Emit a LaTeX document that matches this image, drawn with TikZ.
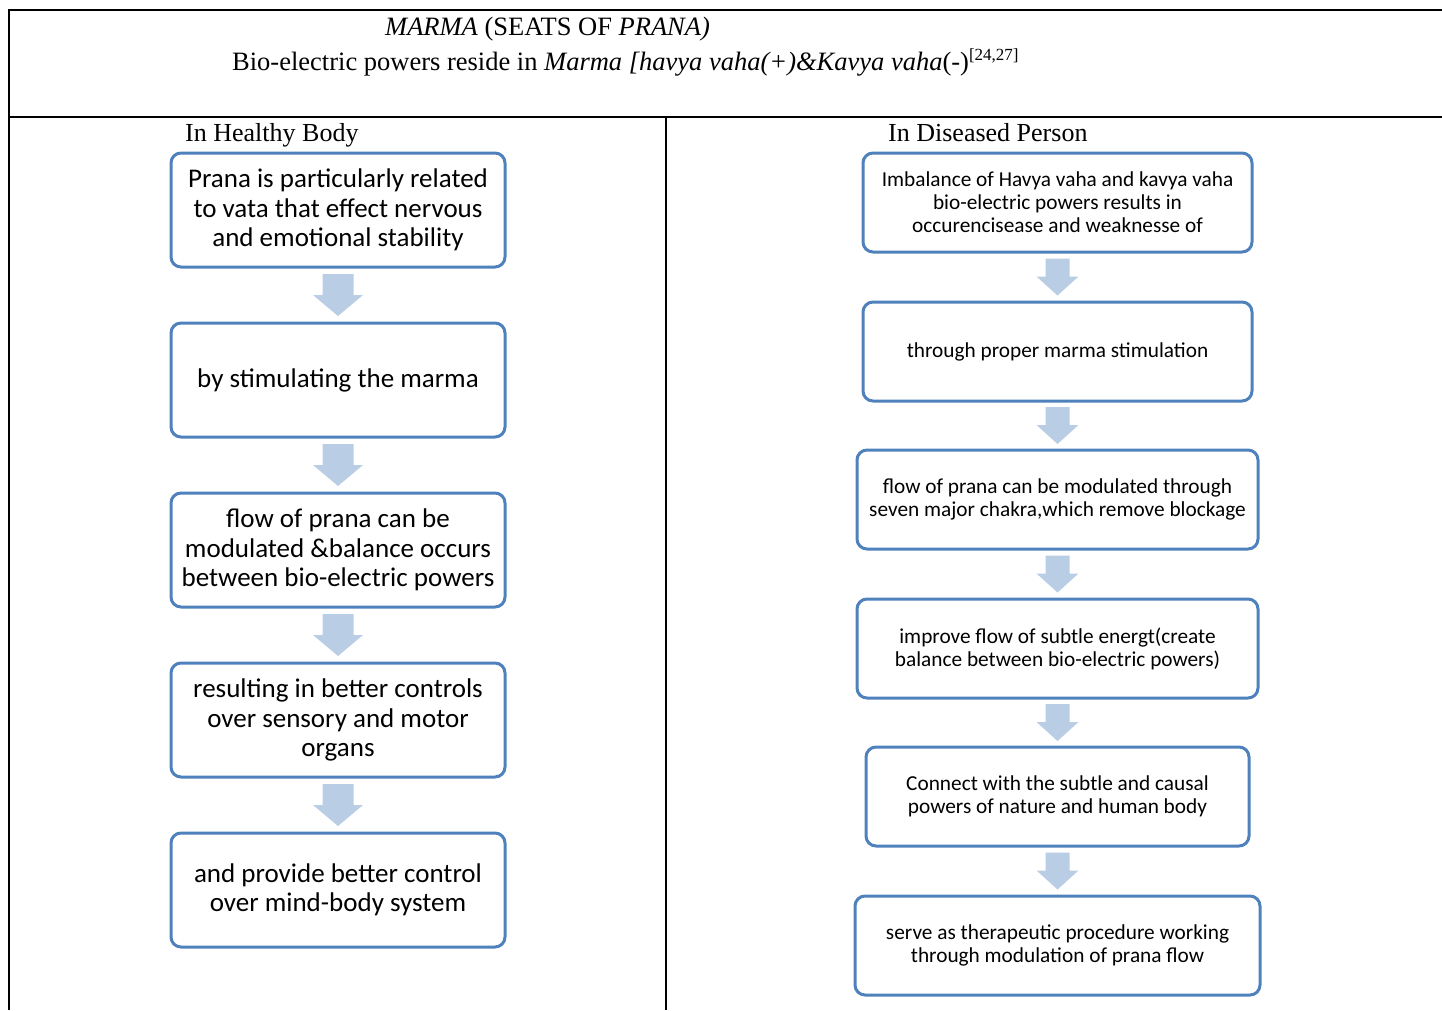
\documentclass[tikz,border=0pt]{standalone}
\usepackage{fontspec}
\setmainfont{Liberation Serif}
\newfontfamily\boxfont{Carlito}
\begin{document}
\begin{tikzpicture}[x=1pt,y=-1pt,
  bx/.style={draw=boxblue, line width=3pt, rounded corners=10pt, fill=white, align=center, inner sep=0pt},
  lbox/.style={bx, minimum width=334pt, minimum height=114pt, font=\boxfont\fontsize{27}{29.5}\selectfont},
  rbox/.style={bx, minimum height=99pt, font=\boxfont\fontsize{21.3}{23}\selectfont},
  arr/.style={fill=arrblue, draw=none},
  hd/.style={font=\fontsize{26.5}{30}\selectfont, inner sep=0pt},
  rule/.style={line width=2pt, black}]
\definecolor{boxblue}{HTML}{4F81BD}
\definecolor{arrblue}{HTML}{B9CDE5}
\useasboundingbox (0,0) rectangle (1442,1010);
% table
\draw[rule] (9,1010) -- (9,10) -- (1442,10);
\draw[rule] (9,117) -- (1442,117);
\draw[rule] (666,117) -- (666,1010);
% header
\node[hd, anchor=base west] (t1) at (385,35) {\textit{MARMA} (SEATS OF \textit{PRANA)}};
\node[hd, anchor=base west] (t2) at (232,70) {Bio-electric powers reside in \textit{Marma [havya vaha(+)\&Kavya vaha}(-)\textsuperscript{\fontsize{17}{17}\selectfont[24,27]}};
\node[hd, anchor=base west, font=\fontsize{26}{30}\selectfont] (hl) at (185,141) {In Healthy Body};
\node[hd, anchor=base west, font=\fontsize{26}{30}\selectfont] (hr) at (888,141) {In Diseased Person};
% left column
\node[lbox] (l1) at (338,210) {Prana is particularly related\\to vata that effect nervous\\and emotional stability};
\node[lbox] (l2) at (338,380) {by stimulating the marma};
\node[lbox] (l3) at (338,550) {flow of prana can be\\modulated \&balance occurs\\between bio-electric powers};
\node[lbox] (l4) at (338,720) {resulting in better controls\\over sensory and motor\\organs};
\node[lbox] (l5) at (338,890) {and provide better control\\over mind-body system};
% right column
\node[rbox, minimum width=389pt] (r1) at (1057.5,202.5) {Imbalance of Havya vaha and kavya vaha\\bio-electric powers results in\\occurencisease and weaknesse of};
\node[rbox, minimum width=389pt] (r2) at (1057.5,351.5) {through proper marma stimulation};
\node[rbox, minimum width=401pt] (r3) at (1057.5,499.5) {flow of prana can be modulated through\\seven major chakra,which remove blockage};
\node[rbox, minimum width=401pt] (r4) at (1057.5,648.5) {improve flow of subtle energt(create\\balance between bio-electric powers)};
\node[rbox, minimum width=383pt] (r5) at (1057.5,796.5) {Connect with the subtle and causal\\powers of nature and human body};
\node[rbox, minimum width=405pt] (r6) at (1057.5,945.5) {serve as therapeutic procedure working\\through modulation of prana flow};
% arrows
\foreach \a/\b in {l1/l2,l2/l3,l3/l4,l4/l5}{
  \path (\a.south) -- (\b.north) coordinate[pos=0.5] (m\a);
  \fill[arr] ([shift={(-15.5,-21)}]m\a) -- ([shift={(15.5,-21)}]m\a) -- ([shift={(15.5,0)}]m\a) -- ([shift={(25,0)}]m\a) -- ([shift={(0,21)}]m\a) -- ([shift={(-25,0)}]m\a) -- ([shift={(-15.5,0)}]m\a) -- cycle;
}
\foreach \a/\b in {r1/r2,r2/r3,r3/r4,r4/r5,r5/r6}{
  \path (\a.south) -- (\b.north) coordinate[pos=0.5] (m\a);
  \fill[arr] ([shift={(-12,-18.5)}]m\a) -- ([shift={(12,-18.5)}]m\a) -- ([shift={(12,-0.5)}]m\a) -- ([shift={(21,-0.5)}]m\a) -- ([shift={(0,18.5)}]m\a) -- ([shift={(-21,-0.5)}]m\a) -- ([shift={(-12,-0.5)}]m\a) -- cycle;
}
\end{tikzpicture}
\end{document}
